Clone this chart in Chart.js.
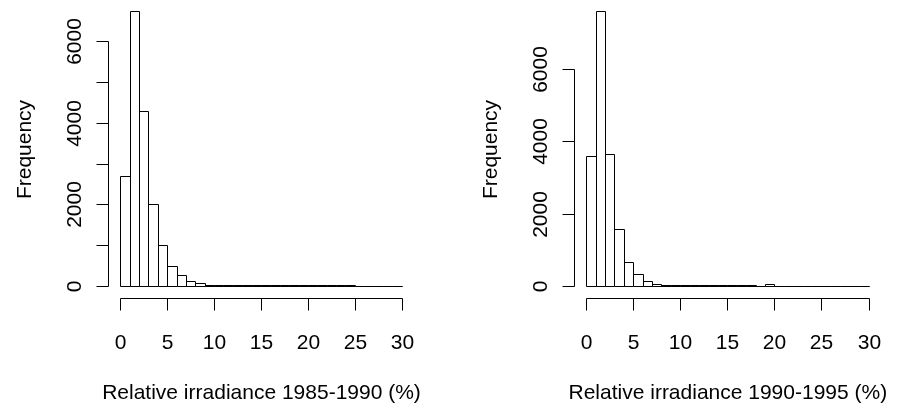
<!DOCTYPE html>
<html>
<head>
<meta charset="utf-8">
<script src="https://cdn.jsdelivr.net/npm/chart.js@4.4.1/dist/chart.umd.min.js"></script>
<style>
  html, body { margin: 0; padding: 0; background: #fff; }
  #wrap { position: relative; width: 899px; height: 406px; overflow: hidden; }
  canvas { position: absolute; top: 0; }
</style>
</head>
<body>
<div id="wrap">
  <canvas id="hist8590" width="450" height="406" style="left:0"></canvas>
  <canvas id="hist9095" width="449" height="406" style="left:450px"></canvas>
</div>
<script>
// histogram bins of width 1 %: bin i covers [i, i+1)
const binStarts = [0, 1, 2, 3, 4, 5, 6, 7, 8, 9, 10, 11, 12, 13, 14, 15, 16, 17, 18, 19,
                   20, 21, 22, 23, 24, 25, 26, 27, 28, 29];
const counts8590 = [2700, 6740, 4300, 2000, 1000, 490, 262, 122, 66, 35, 32, 30, 30, 28, 28,
                    27, 26, 26, 25, 25, 24, 24, 23, 23, 22, 6, 5, 5, 4, 4];
const counts9095 = [3580, 7600, 3650, 1565, 675, 340, 140, 65, 35, 30, 30, 28, 28, 26, 26,
                    25, 24, 24, 8, 45, 6, 5, 5, 5, 4, 4, 4, 3, 3, 3];

const xTicks = [0, 5, 10, 15, 20, 25, 30];
const yTicks8590 = [0, 1000, 2000, 3000, 4000, 5000, 6000];
const yLabels8590 = ['0', '', '2000', '', '4000', '', '6000'];
const yTicks9095 = [0, 2000, 4000, 6000];
const yLabels9095 = ['0', '2000', '4000', '6000'];
const yTitle = 'Frequency';
const xTitle8590 = 'Relative irradiance 1985-1990 (%)';
const xTitle9095 = 'Relative irradiance 1990-1995 (%)';

const FONT = '21px "Liberation Sans", Arial, Helvetica, sans-serif';
const snapX = v => Math.floor(v) + 0.5;
const snapY = v => Math.round(v) - 0.5;

// 1px outlines around each bar, like hist() draws them (shared edges stay 1px)
const barOutline = {
  id: 'barOutline',
  afterDatasetsDraw(chart) {
    const { ctx } = chart;
    const meta = chart.getDatasetMeta(0);
    ctx.save();
    ctx.strokeStyle = '#000';
    ctx.lineWidth = 1;
    ctx.beginPath();
    meta.data.forEach(bar => {
      const { x, y, base, width } = bar.getProps(['x', 'y', 'base', 'width'], true);
      const l = snapX(x - width / 2), r = snapX(x + width / 2);
      const t = snapY(y), b = snapY(base);
      ctx.rect(l, t, r - l, b - t);
    });
    ctx.stroke();
    ctx.restore();
  }
};

// base-graphics style axes: line only between first and last tick, ticks outward
const rAxes = {
  id: 'rAxes',
  afterDraw(chart, args, opts) {
    const { ctx, chartArea: a, scales: { x, y } } = chart;
    const ax = Math.floor(a.left) - 0.5;
    const ay = Math.ceil(a.bottom) + 0.5;
    const tick = 12;
    ctx.save();
    ctx.strokeStyle = '#000';
    ctx.fillStyle = '#000';
    ctx.lineWidth = 1;
    ctx.font = FONT;

    const py = opts.yTicks.map(v => snapY(y.getPixelForValue(v)));
    const px = opts.xTicks.map(v => snapX(x.getPixelForValue(v)));
    ctx.beginPath();
    ctx.moveTo(ax, py[0]); ctx.lineTo(ax, py[py.length - 1]);
    py.forEach(p => { ctx.moveTo(ax, p); ctx.lineTo(ax - tick, p); });
    ctx.moveTo(px[0], ay); ctx.lineTo(px[px.length - 1], ay);
    px.forEach(p => { ctx.moveTo(p, ay); ctx.lineTo(p, ay + tick); });
    ctx.stroke();

    ctx.textAlign = 'center';
    ctx.textBaseline = 'alphabetic';
    opts.xTicks.forEach((v, i) => ctx.fillText(String(v), px[i], ay + 50.5));
    ctx.fillText(opts.xTitle, (a.left + a.right) / 2, ay + 100.5);

    opts.yTicks.forEach((v, i) => {
      const lab = opts.yLabels[i];
      if (!lab) return;
      ctx.save();
      ctx.translate(ax - 28, py[i]);
      ctx.rotate(-Math.PI / 2);
      ctx.fillText(lab, 0, 0);
      ctx.restore();
    });
    ctx.save();
    ctx.translate(ax - 78, (a.top + a.bottom) / 2);
    ctx.rotate(-Math.PI / 2);
    ctx.fillText(opts.yTitle, 0, 0);
    ctx.restore();
    ctx.restore();
  }
};

function makeHist(id, counts, yTicks, yLabels, xTitle, padding) {
  const top = Math.max(...counts);
  return new Chart(document.getElementById(id), {
    type: 'bar',
    data: {
      datasets: [{
        data: binStarts.map((b, i) => ({ x: b + 0.5, y: counts[i] })),
        backgroundColor: '#fff',
        borderWidth: 0,
        inflateAmount: 0,
        barPercentage: 1,
        categoryPercentage: 1,
      }],
    },
    options: {
      responsive: false,
      animation: false,
      events: [],
      layout: { padding },
      plugins: {
        legend: { display: false },
        tooltip: { enabled: false },
        rAxes: { xTicks, yTicks, yLabels, xTitle, yTitle },
      },
      scales: {
        x: { type: 'linear', display: false, offset: false, min: -1.2, max: 31.2 },
        y: { type: 'linear', display: false, min: -0.04 * top, max: 1.04 * top },
      },
    },
    plugins: [barOutline, rAxes],
  });
}

makeHist('hist8590', counts8590, yTicks8590, yLabels8590, xTitle8590,
  { left: 109.5, right: 36.5, top: 1, bottom: 108 });
makeHist('hist9095', counts9095, yTicks9095, yLabels9095, xTitle9095,
  { left: 125.4, right: 18.7, top: 1, bottom: 108 });
</script>
</body>
</html>
